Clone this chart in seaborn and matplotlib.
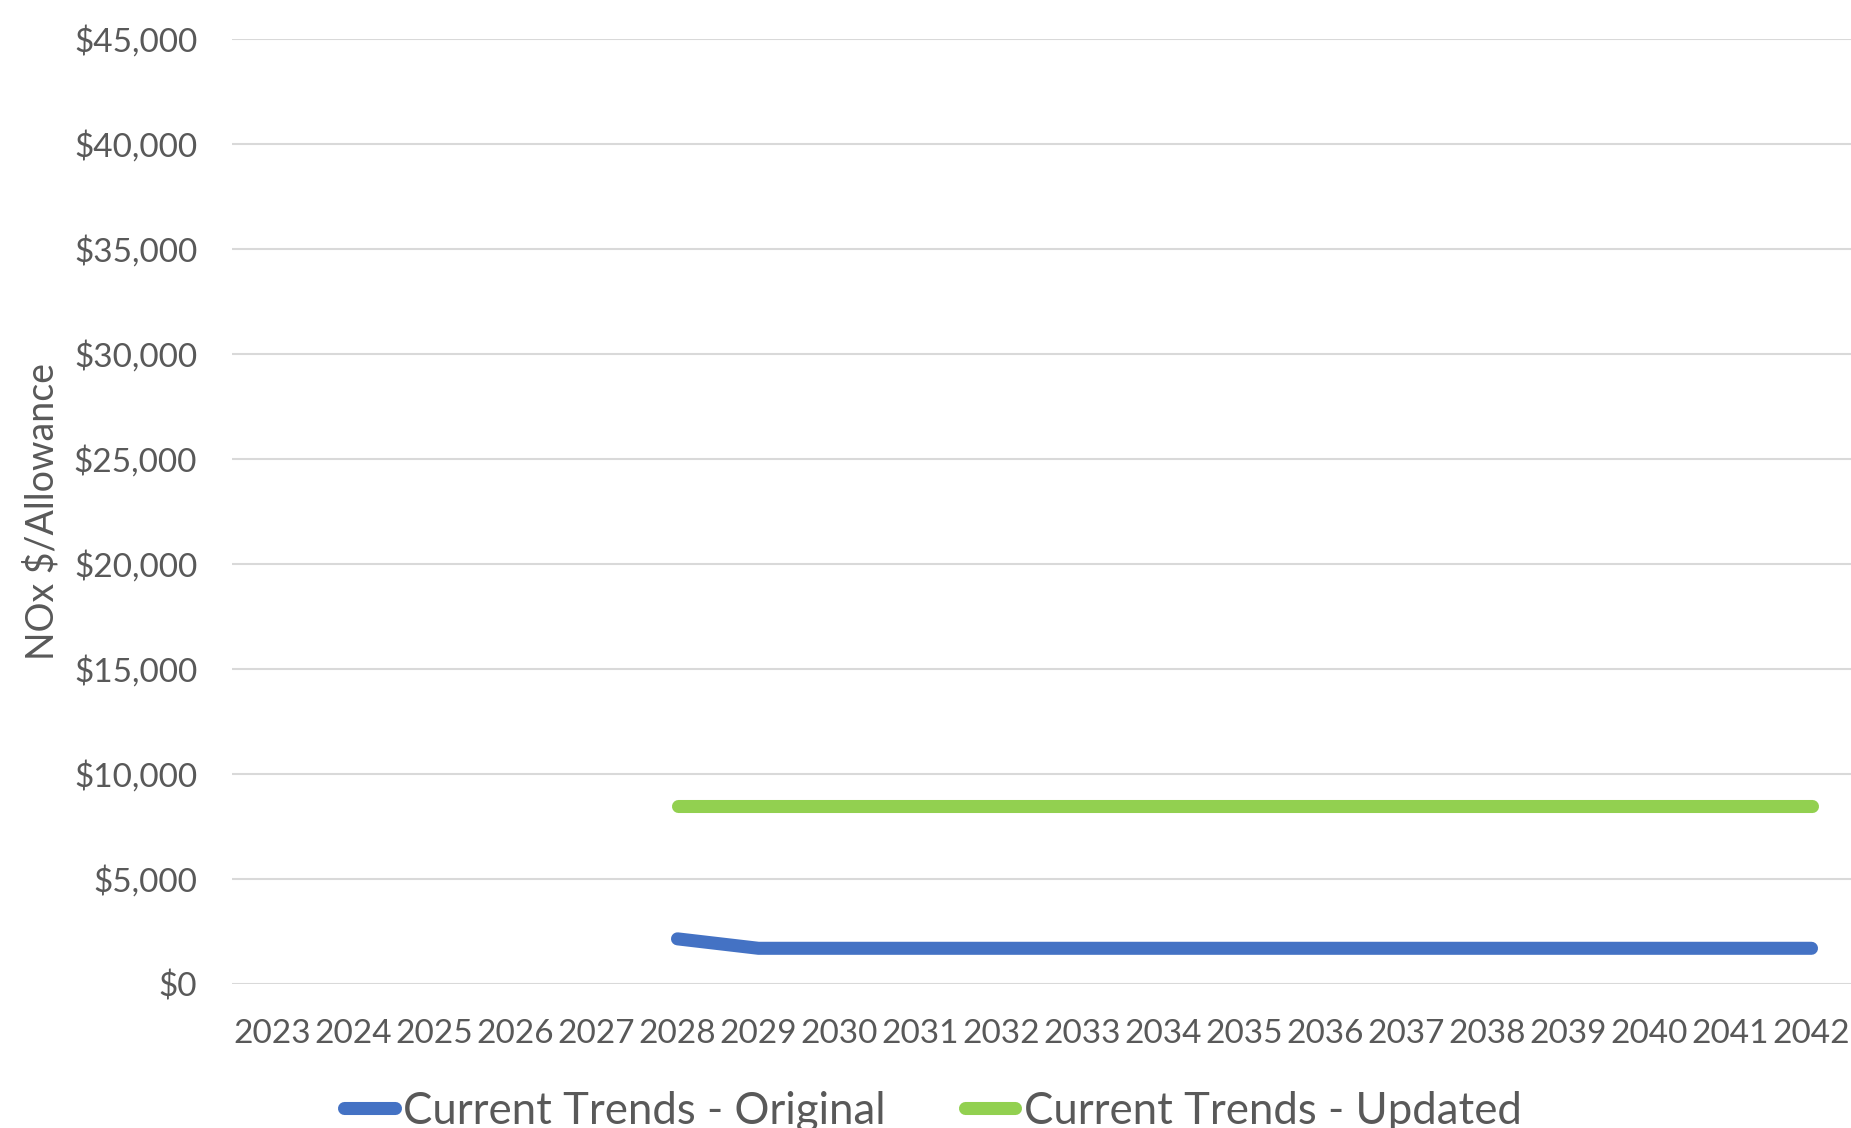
import numpy as np
import pandas as pd
import matplotlib
matplotlib.use("Agg")
import matplotlib.pyplot as plt
import seaborn as sns
from matplotlib.ticker import FuncFormatter, MultipleLocator

# NOx allowance price forecasts ($/allowance)
years = list(range(2023, 2043))
original = [np.nan] * 5 + [2150] + [1700] * 14
updated = [np.nan] * 5 + [8500] * 15
series_names = ["Current Trends - Original", "Current Trends - Updated"]
series_colors = ["#4472C4", "#92D050"]

df = pd.DataFrame({
    "Year": years * 2,
    "Price": original + updated,
    "Scenario": [series_names[0]] * len(years) + [series_names[1]] * len(years),
}).dropna()

sns.set_theme(style="white")
plt.rcParams["font.family"] = ["Lato", "DejaVu Sans"]
text_color = "#595959"

W, H = 1851, 1128
fig = plt.figure(figsize=(W / 100, H / 100), dpi=100)
ax = fig.add_axes([232 / W, 1 - 984 / H, 1620 / W, (984 - 39) / H])

sns.lineplot(
    data=df, x="Year", y="Price", hue="Scenario",
    hue_order=series_names, palette=series_colors,
    linewidth=9.4, ax=ax, legend=False,
)
for line in ax.lines:
    line.set_solid_capstyle("round")
    line.set_solid_joinstyle("round")

ax.set_xlim(2022.5, 2042.5)
ax.set_ylim(0, 45000)
ax.set_xticks(years)
ax.set_xticklabels([str(y) for y in years])
ax.yaxis.set_major_locator(MultipleLocator(5000))
ax.yaxis.set_major_formatter(FuncFormatter(lambda v, p: f"${v:,.0f}"))
ax.grid(axis="y", color="#D9D9D9", linewidth=1.5)
ax.grid(axis="x", visible=False)
ax.set_axisbelow(True)
for s in ax.spines.values():
    s.set_visible(False)

ax.tick_params(axis="y", length=0, pad=25, labelsize=24, labelcolor=text_color)
ax.tick_params(axis="x", length=0, pad=25, labelsize=24, labelcolor=text_color)

ax.set_xlabel("")
ax.set_ylabel("NOx $/Allowance", fontsize=27, color=text_color)
ax.yaxis.set_label_coords((42 - 232) / 1620, 0.5)
ax.yaxis.label.set_va("center")

handles = [
    plt.Line2D([], [], color=c, linewidth=9.4, solid_capstyle="round")
    for c in series_colors
]
fig.legend(
    handles, series_names, loc="center",
    bbox_to_anchor=(933 / W, 1 - 1111 / H),
    ncol=2, frameon=False, fontsize=31.5, labelcolor=text_color,
    handlelength=1.15, handletextpad=0.2, columnspacing=1.8,
)

fig.savefig("out.png", dpi=100)
